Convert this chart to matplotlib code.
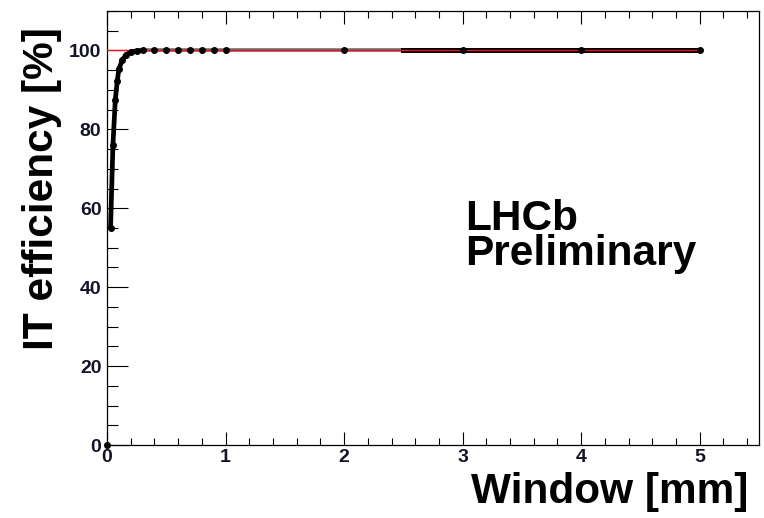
import matplotlib
matplotlib.use("Agg")
import matplotlib.pyplot as plt
from matplotlib.ticker import MultipleLocator
import numpy as np

# Hit efficiency of the Inner Tracker vs. the search window size
window_mm = [0.0, 0.03, 0.05, 0.07, 0.087, 0.10, 0.13, 0.16, 0.20, 0.25,
             0.30, 0.40, 0.50, 0.60, 0.70, 0.80, 0.90, 1.00, 2.00, 2.50,
             3.00, 4.00, 5.00]
efficiency = [0.0, 55.0, 76.0, 87.5, 92.3, 95.3, 97.6, 98.9, 99.6, 99.9,
              100.0, 100.0, 100.0, 100.0, 100.0, 100.0, 100.0, 100.0, 100.0, 100.0,
              100.0, 100.0, 100.0]
plateau = 100.0

x_ticks = [0, 1, 2, 3, 4, 5]
y_ticks = [0, 20, 40, 60, 80, 100]

narrow = ["Liberation Sans Narrow", "Liberation Sans", "DejaVu Sans"]
bold = ["Liberation Sans", "DejaVu Sans"]

fig = plt.figure(figsize=(7.64, 5.18), dpi=100)
ax = fig.add_axes([107 / 764, 1 - 445 / 518, (759 - 107) / 764, (445 - 11) / 518])

x = np.array(window_mm)
y = np.array(efficiency)

# plateau fit
ax.plot([0, 5], [plateau, plateau], color="#e8141c", lw=1.0, zorder=4)

# rising edge (first point at the origin is drawn as a marker only)
rise = (x > 0) & (x <= 0.30)
ax.plot(x[rise], y[rise], color="black", lw=3.4, solid_capstyle="round", zorder=3)
mid = (x >= 0.30) & (x <= 2.5)
ax.plot(x[mid], y[mid], color="#707070", lw=2.6, zorder=3)
tail = x >= 2.5
ax.plot(x[tail], y[tail], color="black", lw=3.6, zorder=3)
ax.plot(x[x != 2.5], y[x != 2.5], ls="none", marker="o", ms=4.0,
        color="black", zorder=5, clip_on=False)

ax.set_xlim(0, 5.5)
ax.set_ylim(0, 110)
ax.set_xticks(x_ticks)
ax.set_yticks(y_ticks)
ax.xaxis.set_minor_locator(MultipleLocator(0.2))
ax.yaxis.set_minor_locator(MultipleLocator(5))

ax.tick_params(axis="x", which="major", direction="in", length=9.5, width=0.8,
               top=True, bottom=True, pad=3)
ax.tick_params(axis="x", which="minor", direction="in", length=5, width=0.8,
               top=True, bottom=True)
ax.tick_params(axis="y", which="major", direction="in", length=15, width=0.8,
               left=True, right=False, pad=4)
ax.tick_params(axis="y", which="minor", direction="in", length=8, width=0.8,
               left=True, right=False)
for sp in ax.spines.values():
    sp.set_linewidth(0.9)
    sp.set_color("black")

for lab in ax.get_xticklabels() + ax.get_yticklabels():
    lab.set_family(narrow)
    lab.set_fontsize(14)
    lab.set_fontweight("bold")
    lab.set_color("#141428")

fig.text(748 / 764, 1 - 492 / 518, "Window [mm]", ha="right", va="center",
         fontsize=30.5, fontweight="bold", family=bold)
fig.text(42 / 764, 1 - 189 / 518, "IT efficiency [%]", ha="center", va="center",
         rotation=90, fontsize=30.5, fontweight="bold", family=bold)

ax.text(465 / 764, 1 - 265 / 518, "LHCb\nPreliminary", transform=fig.transFigure,
        ha="left", va="baseline", multialignment="left", linespacing=0.83,
        fontsize=30.5, fontweight="bold", family=bold)

fig.savefig("out.png", dpi=100)
